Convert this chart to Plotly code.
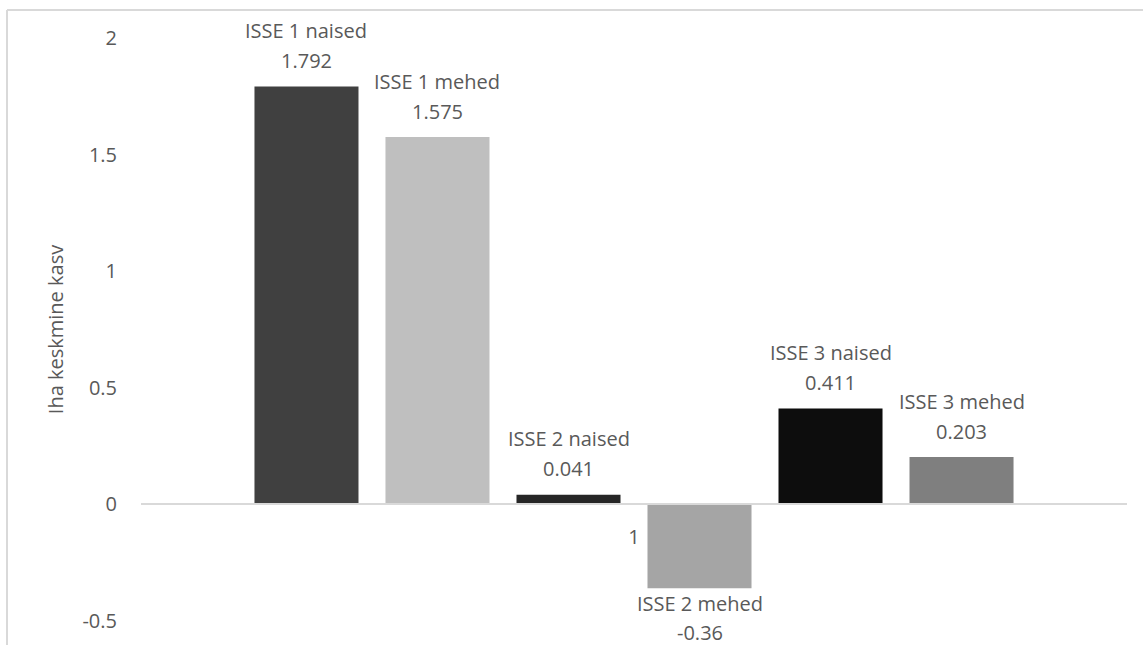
import plotly.graph_objects as go

# Average growth per group
categories = ["1"]
series_names = ["ISSE 1 naised", "ISSE 1 mehed", "ISSE 2 naised",
                "ISSE 2 mehed", "ISSE 3 naised", "ISSE 3 mehed"]
series_values = [1.792, 1.575, 0.041, -0.36, 0.411, 0.203]
value_labels = ["1.792", "1.575", "0.041", "-0.36", "0.411", "0.203"]
bar_colors = ["#404040", "#bfbfbf", "#262626", "#a5a5a5", "#0d0d0d", "#7f7f7f"]

y_tickvals = [-0.5, 0, 0.5, 1, 1.5, 2]
y_ticktext = ["-0.5", "0", "0.5", "1", "1.5", "2"]
y_title = "Iha keskmine kasv"

FONT = "Open Sans"
TEXT_COLOR = "#595959"
LINE_COLOR = "#d9d9d9"
W, H = 1143, 645
M = dict(l=141, r=16, t=38, b=24)
BARGAP = 0.2028
BARGROUPGAP = 0.206
Y_MIN, Y_MAX = -0.5, 2.0

fig = go.Figure()
for name, val, col in zip(series_names, series_values, bar_colors):
    fig.add_trace(go.Bar(
        x=categories, y=[val], name=name,
        marker=dict(color=col, line=dict(width=0)),
        hoverinfo="name+y",
    ))

# Two-line data labels (series name + value) next to each bar end
n = len(series_names)
group = 1 - BARGAP
slot = group / n
annotations = []
for i, (name, val, txt) in enumerate(zip(series_names, series_values, value_labels)):
    xc = -group / 2 + (i + 0.5) * slot
    if val >= 0:
        shifts = [(name, 56), (txt, 26)]
    else:
        shifts = [(name, -15), (txt, -44)]
    for label, dy in shifts:
        annotations.append(dict(
            x=xc, y=val, xref="x", yref="y", text=label, showarrow=False,
            xanchor="center", yanchor="middle", yshift=dy,
            font=dict(family=FONT, size=20, color=TEXT_COLOR),
        ))

# Chart-area border (left and top edges)
plot_w = W - M["l"] - M["r"]
plot_h = H - M["t"] - M["b"]
bx = (7 - M["l"]) / plot_w
by = (H - M["b"] - 10) / plot_h
shapes = [
    dict(type="line", xref="paper", yref="paper", x0=bx, x1=bx, y0=-0.2, y1=by,
         line=dict(color=LINE_COLOR, width=2)),
    dict(type="line", xref="paper", yref="paper", x0=bx, x1=1.2, y0=by, y1=by,
         line=dict(color=LINE_COLOR, width=2)),
]

zero_pos = (0 - Y_MIN) / (Y_MAX - Y_MIN)

fig.update_layout(
    width=W, height=H, margin=M,
    paper_bgcolor="white", plot_bgcolor="white",
    barmode="group", bargap=BARGAP, bargroupgap=BARGROUPGAP,
    showlegend=False,
    font=dict(family=FONT, size=20, color=TEXT_COLOR),
    annotations=annotations, shapes=shapes,
    xaxis=dict(
        type="category", anchor="free", position=zero_pos,
        showline=True, linecolor=LINE_COLOR, linewidth=1.5,
        showgrid=False, zeroline=False, ticks="",
        ticklabelstandoff=15,
        tickfont=dict(family=FONT, size=20, color=TEXT_COLOR),
    ),
    yaxis=dict(
        range=[Y_MIN, Y_MAX], tickvals=y_tickvals, ticktext=y_ticktext,
        showgrid=False, zeroline=False, showline=False, ticks="",
        ticklabelstandoff=23,
        tickfont=dict(family=FONT, size=20, color=TEXT_COLOR),
        title=dict(text=y_title, standoff=13,
                   font=dict(family=FONT, size=20, color=TEXT_COLOR)),
    ),
)

fig.write_html("out.html")
